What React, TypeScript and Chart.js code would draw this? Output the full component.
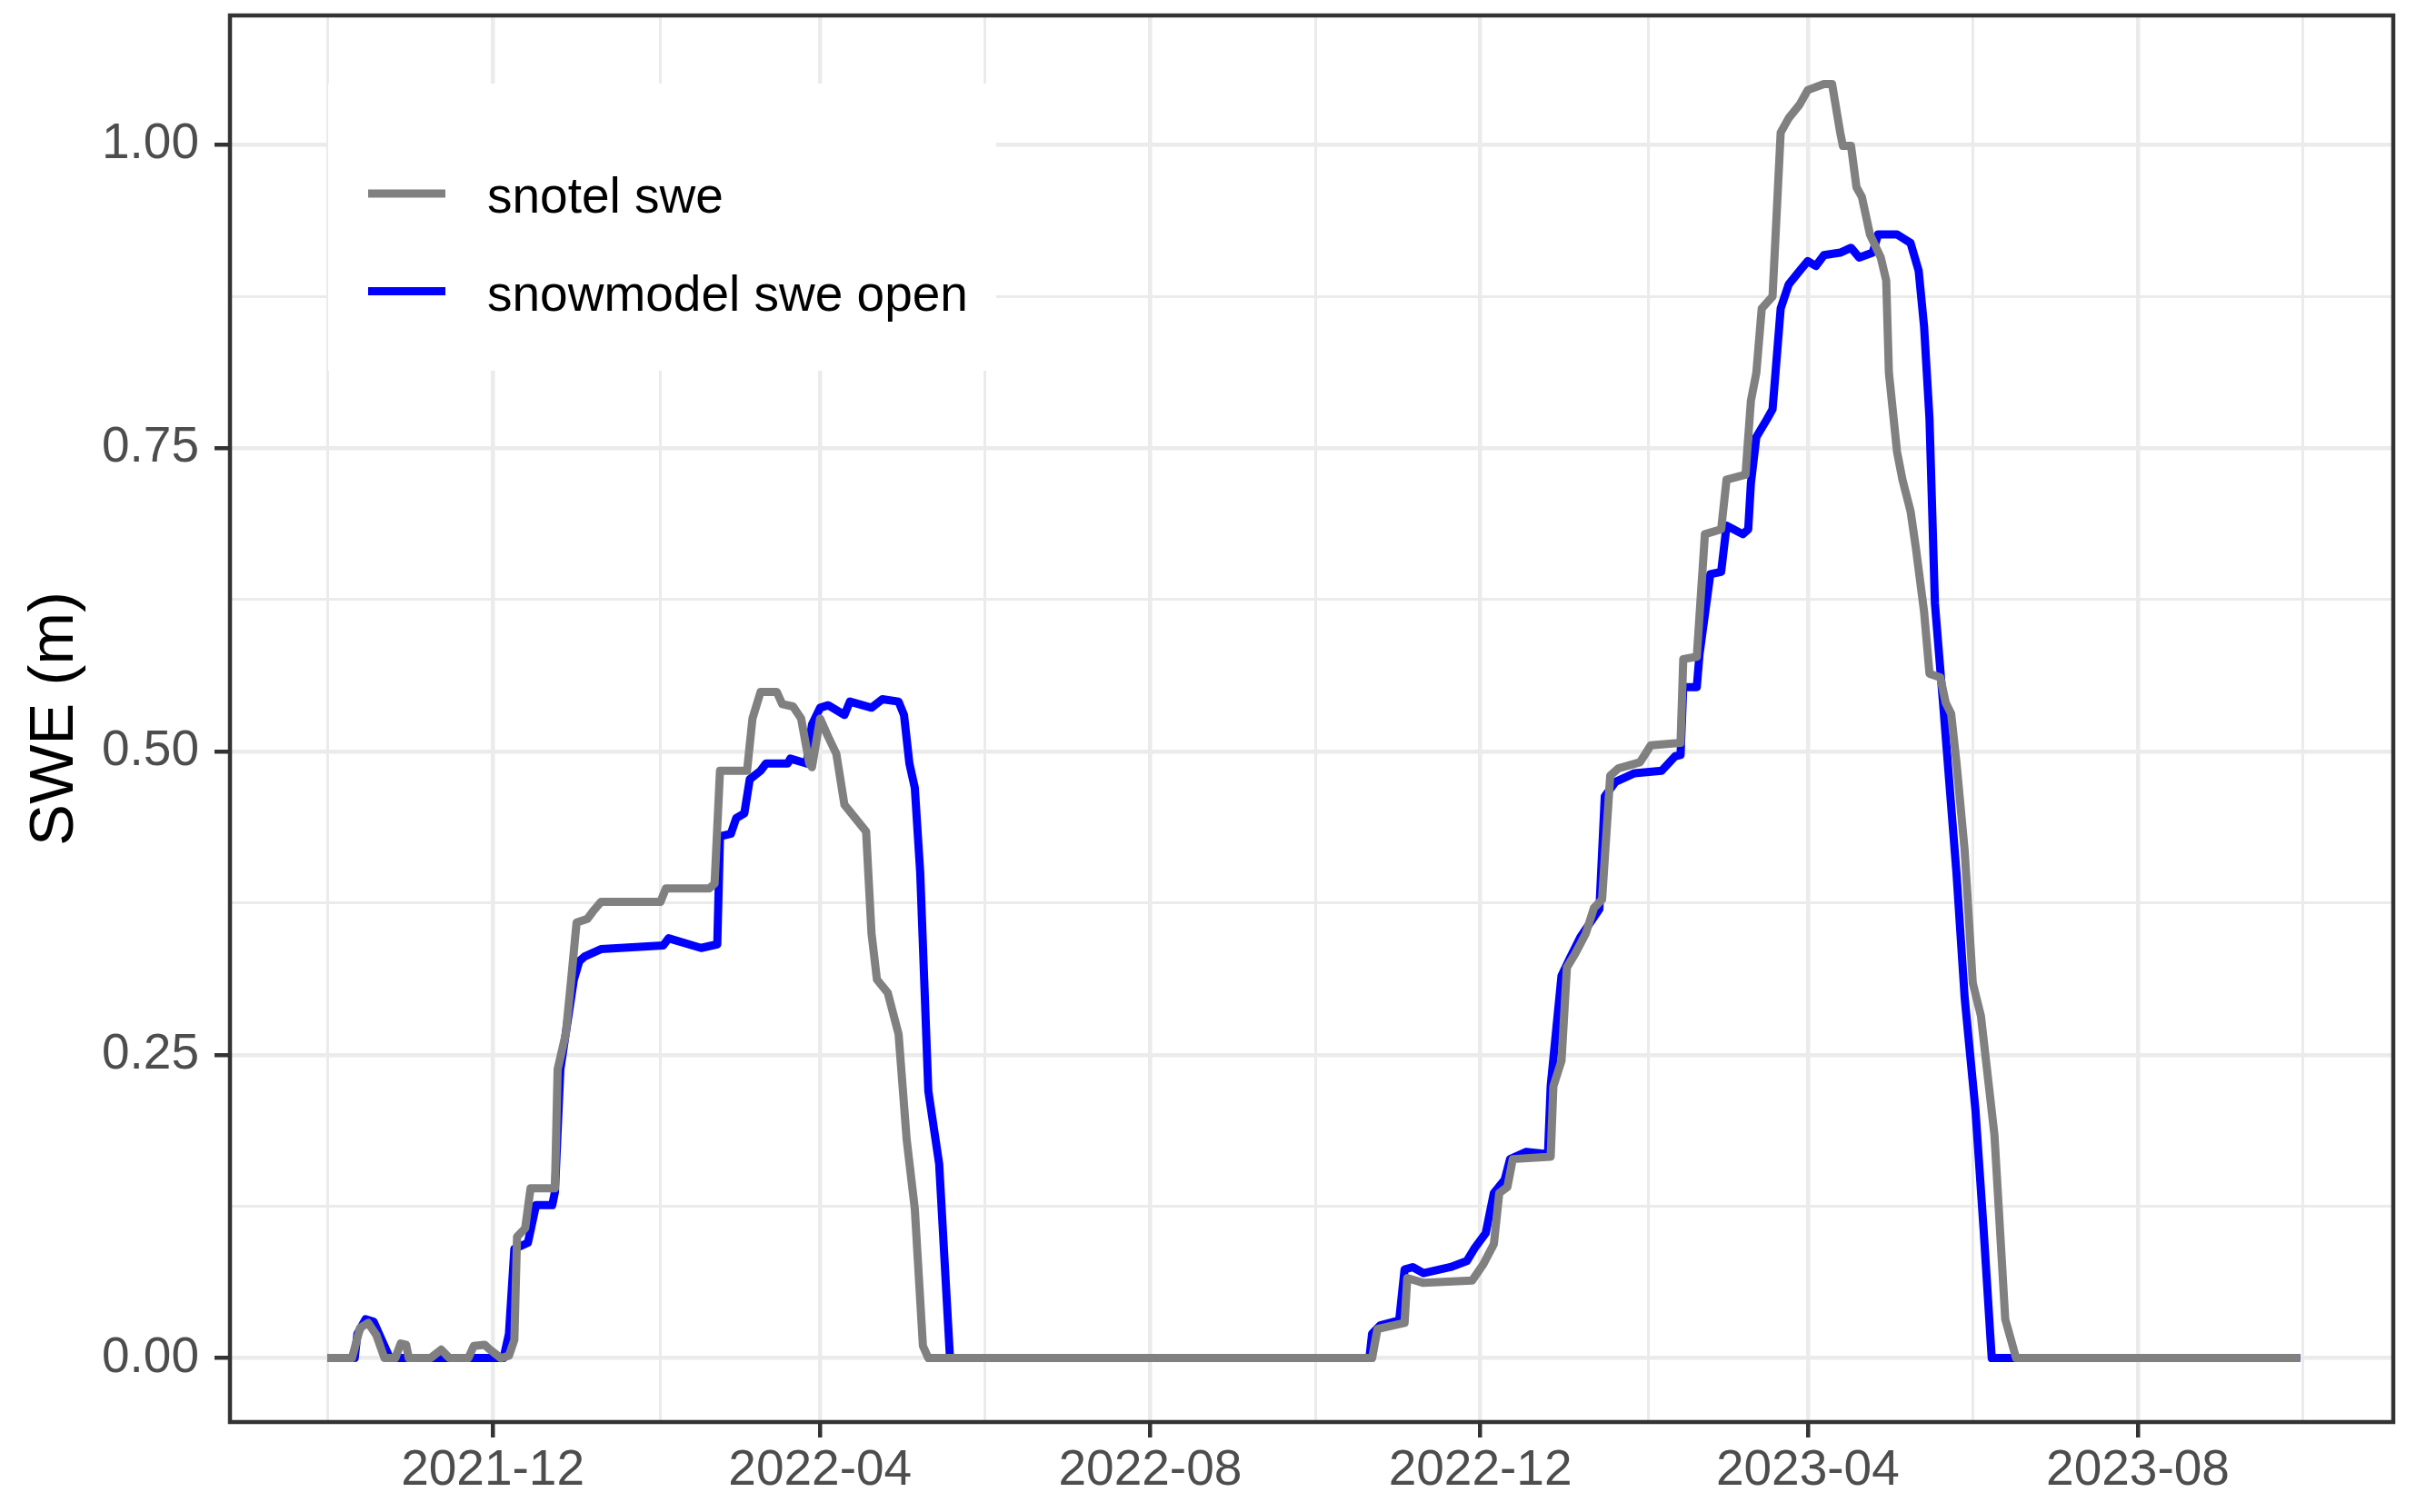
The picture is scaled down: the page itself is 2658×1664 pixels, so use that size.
import React, { useEffect, useRef } from 'react';
import { Chart, registerables } from 'chart.js';

Chart.register(...registerables);

// ---------------- data ----------------
const seriesNames = ['snotel swe', 'snowmodel swe open'];
const seriesColors = ['#808080', '#0000FF'];

const snotelDates = [
  '2021-10-01', '2021-10-10', '2021-10-13', '2021-10-16', '2021-10-19', '2021-10-22', '2021-10-26',
  '2021-10-28', '2021-10-30', '2021-10-31', '2021-11-08', '2021-11-12', '2021-11-15', '2021-11-22',
  '2021-11-24', '2021-11-28', '2021-11-30', '2021-12-04', '2021-12-07', '2021-12-09', '2021-12-10',
  '2021-12-13', '2021-12-15', '2021-12-24', '2021-12-25', '2021-12-28', '2021-12-30', '2022-01-01',
  '2022-01-05', '2022-01-07', '2022-01-10', '2022-02-01', '2022-02-03', '2022-02-19', '2022-02-21',
  '2022-02-23', '2022-03-05', '2022-03-07', '2022-03-10', '2022-03-16', '2022-03-18', '2022-03-22',
  '2022-03-25', '2022-03-28', '2022-03-29', '2022-04-01', '2022-04-04', '2022-04-07', '2022-04-10',
  '2022-04-14', '2022-04-18', '2022-04-20', '2022-04-22', '2022-04-26', '2022-04-30', '2022-05-03',
  '2022-05-06', '2022-05-09', '2022-05-11',
  '2022-10-22', '2022-10-24', '2022-11-03', '2022-11-04', '2022-11-10', '2022-11-28', '2022-12-02',
  '2022-12-06', '2022-12-08', '2022-12-11', '2022-12-13', '2022-12-27', '2022-12-28', '2022-12-31',
  '2023-01-02', '2023-01-05', '2023-01-09', '2023-01-12', '2023-01-15', '2023-01-18', '2023-01-21',
  '2023-01-29', '2023-02-02', '2023-02-13', '2023-02-14', '2023-02-19', '2023-02-22', '2023-02-28',
  '2023-03-02', '2023-03-09', '2023-03-11', '2023-03-13', '2023-03-15', '2023-03-19', '2023-03-22',
  '2023-03-25', '2023-03-29', '2023-04-01', '2023-04-07', '2023-04-10', '2023-04-13', '2023-04-14',
  '2023-04-17', '2023-04-19', '2023-04-21', '2023-04-24', '2023-04-28', '2023-04-30', '2023-05-01',
  '2023-05-04', '2023-05-06', '2023-05-09', '2023-05-11', '2023-05-14', '2023-05-16', '2023-05-20',
  '2023-05-22', '2023-05-24', '2023-05-26', '2023-05-29', '2023-06-01', '2023-06-04', '2023-06-09',
  '2023-06-13', '2023-06-17', '2023-09-30',
];
const snotelSwe = [
  0, 0, 0.025, 0.029, 0.019, 0, 0,
  0.012, 0.011, 0, 0, 0.007, 0, 0,
  0.010, 0.011, 0.007, 0, 0.002, 0.015, 0.100,
  0.107, 0.140, 0.140, 0.238, 0.267, 0.312, 0.359,
  0.362, 0.368, 0.376, 0.376, 0.387, 0.387, 0.391,
  0.484, 0.484, 0.527, 0.549, 0.549, 0.539, 0.537,
  0.527, 0.490, 0.487, 0.527, 0.512, 0.498, 0.456,
  0.445, 0.434, 0.350, 0.312, 0.301, 0.267, 0.180,
  0.123, 0.010, 0,
  0, 0.024, 0.029, 0.066, 0.062, 0.064, 0.077,
  0.094, 0.136, 0.141, 0.164, 0.166, 0.224, 0.245,
  0.322, 0.333, 0.350, 0.371, 0.378, 0.480, 0.486,
  0.491, 0.505, 0.507, 0.576, 0.578, 0.679, 0.683,
  0.724, 0.728, 0.789, 0.812, 0.865, 0.875, 1.010,
  1.022, 1.033, 1.045, 1.050, 1.050, 1.010, 0.999,
  0.999, 0.965, 0.957, 0.926, 0.907, 0.888, 0.812,
  0.747, 0.724, 0.698, 0.667, 0.615, 0.564, 0.561,
  0.540, 0.531, 0.490, 0.418, 0.309, 0.282, 0.184,
  0.032, 0, 0,
];

const modelDates = [
  '2021-10-01', '2021-10-11', '2021-10-12', '2021-10-15', '2021-10-18', '2021-10-22', '2021-10-24',
  '2021-12-05', '2021-12-07', '2021-12-09', '2021-12-14', '2021-12-17', '2021-12-23', '2021-12-24',
  '2021-12-26', '2021-12-31', '2022-01-02', '2022-01-04', '2022-01-10', '2022-02-02', '2022-02-04',
  '2022-02-16', '2022-02-22', '2022-02-23', '2022-02-27', '2022-03-01', '2022-03-04', '2022-03-06',
  '2022-03-10', '2022-03-12', '2022-03-20', '2022-03-21', '2022-03-27', '2022-03-29', '2022-04-01',
  '2022-04-04', '2022-04-10', '2022-04-12', '2022-04-20', '2022-04-24', '2022-04-30', '2022-05-02',
  '2022-05-04', '2022-05-06', '2022-05-08', '2022-05-11', '2022-05-15', '2022-05-19',
  '2022-10-21', '2022-10-22', '2022-10-25', '2022-11-01', '2022-11-03', '2022-11-06', '2022-11-10',
  '2022-11-20', '2022-11-26', '2022-11-29', '2022-12-03', '2022-12-06', '2022-12-10', '2022-12-12',
  '2022-12-18', '2022-12-26', '2022-12-27', '2022-12-31', '2023-01-03', '2023-01-07', '2023-01-14',
  '2023-01-16', '2023-01-20', '2023-01-27', '2023-02-06', '2023-02-11', '2023-02-13', '2023-02-14',
  '2023-02-19', '2023-02-20', '2023-02-24', '2023-02-28', '2023-03-02', '2023-03-08', '2023-03-10',
  '2023-03-11', '2023-03-13', '2023-03-17', '2023-03-19', '2023-03-22', '2023-03-25', '2023-03-29',
  '2023-04-01', '2023-04-04', '2023-04-07', '2023-04-13', '2023-04-17', '2023-04-20', '2023-04-25',
  '2023-04-27', '2023-05-04', '2023-05-09', '2023-05-12', '2023-05-14', '2023-05-16', '2023-05-18',
  '2023-05-21', '2023-05-26', '2023-05-29', '2023-06-02', '2023-06-05', '2023-06-08', '2023-09-30',
];
const modelSwe = [
  0, 0, 0.020, 0.032, 0.030, 0.010, 0,
  0, 0.020, 0.090, 0.095, 0.126, 0.126, 0.137,
  0.238, 0.312, 0.327, 0.331, 0.337, 0.340, 0.346,
  0.338, 0.341, 0.430, 0.432, 0.445, 0.449, 0.477,
  0.484, 0.490, 0.490, 0.494, 0.490, 0.522, 0.536,
  0.538, 0.530, 0.541, 0.536, 0.543, 0.541, 0.530,
  0.490, 0.470, 0.400, 0.220, 0.160, 0,
  0, 0.020, 0.027, 0.031, 0.073, 0.075, 0.070,
  0.075, 0.080, 0.091, 0.103, 0.136, 0.147, 0.164,
  0.170, 0.168, 0.224, 0.315, 0.329, 0.347, 0.370,
  0.463, 0.475, 0.482, 0.484, 0.496, 0.497, 0.553,
  0.553, 0.580, 0.646, 0.648, 0.686, 0.679, 0.683,
  0.721, 0.759, 0.774, 0.782, 0.865, 0.885, 0.896,
  0.904, 0.900, 0.909, 0.911, 0.915, 0.907, 0.911,
  0.926, 0.926, 0.919, 0.896, 0.850, 0.774, 0.622,
  0.540, 0.399, 0.297, 0.204, 0.106, 0, 0,
];

const xMajorTicks = ['2021-12-01', '2022-04-01', '2022-08-01', '2022-12-01', '2023-04-01', '2023-08-01'];
const xMinorTicks = ['2021-10-01', '2022-02-01', '2022-06-01', '2022-10-01', '2023-02-01', '2023-06-01', '2023-10-01'];
const yMajorTicks = [0, 0.25, 0.5, 0.75, 1.0];
const yMinorTicks = [0.125, 0.375, 0.625, 0.875];
const yTitle = 'SWE (m)';

// ---------------- helpers ----------------
const DAY_MS = 86400000;
const toDay = (s: string) => {
  const [y, m, d] = s.split('-').map(Number);
  return Date.UTC(y, m - 1, d) / DAY_MS;
};

const FONT = '"Liberation Sans", Arial, Helvetica, sans-serif';

export default function App() {
  const ref = useRef<HTMLCanvasElement | null>(null);

  useEffect(() => {
    document.body.style.margin = '0';
    const canvas = ref.current;
    if (!canvas) return;

    const W = 2658;
    const H = 1664;
    const panelLeft = 253;
    const panelRight = 2633;
    const panelTop = 17;
    const panelBottom = 1565;

    const anchor = toDay('2021-12-01');
    const xMin = anchor - 97.1;
    const xMax = anchor + 702.4;
    const yMin = -0.0527;
    const yMax = 1.1065;

    const xMajorVals = xMajorTicks.map(toDay);
    const xMinorVals = xMinorTicks.map(toDay);
    const xLabelMap = new Map<number, string>();
    xMajorTicks.forEach((s, i) => xLabelMap.set(xMajorVals[i], s.slice(0, 7)));
    const xAll = [...xMajorVals, ...xMinorVals].filter((v) => v >= xMin && v <= xMax).sort((a, b) => a - b);
    const isXMajor = (v: number) => xLabelMap.has(v);

    const yAll = [...yMajorTicks, ...yMinorTicks].filter((v) => v >= yMin && v <= yMax).sort((a, b) => a - b);
    const isYMajor = (v: number) => yMajorTicks.some((t) => Math.abs(t - v) < 1e-9);

    const snotelData = snotelDates.map((d, i) => ({ x: toDay(d), y: snotelSwe[i] }));
    const modelData = modelDates.map((d, i) => ({ x: toDay(d), y: modelSwe[i] }));

    const lineW = 9;
    const gridMajorW = 4.5;
    const gridMinorW = 3;
    const gridColor = '#EBEBEB';
    const inkColor = '#333333';

    const legendPlugin = {
      id: 'ggLegend',
      beforeDatasetsDraw(chart: any) {
        const ctx = chart.ctx as CanvasRenderingContext2D;
        ctx.save();
        ctx.fillStyle = '#FFFFFF';
        ctx.fillRect(361, 92, 735, 316);
        seriesNames.forEach((name, i) => {
          const yMid = 213 + i * 107.5;
          ctx.strokeStyle = seriesColors[i];
          ctx.lineWidth = lineW;
          ctx.lineCap = 'butt';
          ctx.beginPath();
          ctx.moveTo(405, yMid);
          ctx.lineTo(490, yMid);
          ctx.stroke();
          ctx.fillStyle = '#000000';
          ctx.font = `55px ${FONT}`;
          ctx.textAlign = 'left';
          ctx.textBaseline = 'alphabetic';
          ctx.fillText(name, 536, yMid + 21);
        });
        ctx.restore();
      },
    };

    const borderPlugin = {
      id: 'ggBorder',
      afterDraw(chart: any) {
        const { left, right, top, bottom } = chart.chartArea;
        const ctx = chart.ctx as CanvasRenderingContext2D;
        ctx.save();
        ctx.strokeStyle = inkColor;
        ctx.lineWidth = 4.5;
        ctx.strokeRect(left, top, right - left, bottom - top);
        ctx.restore();
      },
    };

    const chart = new Chart(canvas, {
      type: 'line',
      data: {
        datasets: [
          {
            label: seriesNames[0],
            data: snotelData,
            borderColor: seriesColors[0],
            backgroundColor: seriesColors[0],
            borderWidth: lineW,
            pointRadius: 0,
            tension: 0,
            borderJoinStyle: 'round',
            fill: false,
            order: 0,
          },
          {
            label: seriesNames[1],
            data: modelData,
            borderColor: seriesColors[1],
            backgroundColor: seriesColors[1],
            borderWidth: lineW,
            pointRadius: 0,
            tension: 0,
            borderJoinStyle: 'round',
            fill: false,
            order: 1,
          },
        ],
      },
      options: {
        responsive: false,
        animation: false,
        devicePixelRatio: 1,
        events: [],
        layout: { padding: { top: panelTop, right: W - panelRight, left: 0, bottom: 0 } },
        plugins: {
          legend: { display: false },
          tooltip: { enabled: false },
          title: { display: false },
        },
        scales: {
          x: {
            type: 'linear',
            min: xMin,
            max: xMax,
            bounds: 'data',
            border: { display: false },
            afterBuildTicks: (scale: any) => {
              scale.ticks = xAll.map((v) => ({ value: v }));
            },
            afterFit: (scale: any) => {
              scale.height = H - panelBottom;
              scale.paddingLeft = 0;
              scale.paddingRight = 0;
              scale.paddingTop = 0;
              scale.paddingBottom = 0;
            },
            grid: {
              drawOnChartArea: true,
              drawTicks: true,
              tickLength: 17,
              color: gridColor,
              lineWidth: (c: any) => (c.tick && isXMajor(c.tick.value) ? gridMajorW : gridMinorW),
              tickColor: (c: any) => (c.tick && isXMajor(c.tick.value) ? inkColor : 'rgba(0,0,0,0)'),
              tickWidth: 4.5,
            },
            ticks: {
              autoSkip: false,
              maxRotation: 0,
              minRotation: 0,
              padding: 4,
              color: '#4D4D4D',
              font: { family: FONT, size: 55 },
              callback: (v: any) => xLabelMap.get(Number(v)) ?? '',
            },
          },
          y: {
            type: 'linear',
            min: yMin,
            max: yMax,
            bounds: 'data',
            border: { display: false },
            afterBuildTicks: (scale: any) => {
              scale.ticks = yAll.map((v) => ({ value: v }));
            },
            afterFit: (scale: any) => {
              scale.width = panelLeft;
              scale.paddingLeft = 0;
              scale.paddingRight = 0;
              scale.paddingTop = 0;
              scale.paddingBottom = 0;
            },
            grid: {
              drawOnChartArea: true,
              drawTicks: true,
              tickLength: 17,
              color: gridColor,
              lineWidth: (c: any) => (c.tick && isYMajor(c.tick.value) ? gridMajorW : gridMinorW),
              tickColor: (c: any) => (c.tick && isYMajor(c.tick.value) ? inkColor : 'rgba(0,0,0,0)'),
              tickWidth: 4.5,
            },
            ticks: {
              autoSkip: false,
              padding: 17,
              color: '#4D4D4D',
              font: { family: FONT, size: 55 },
              callback: (v: any) => (isYMajor(Number(v)) ? Number(v).toFixed(2) : ''),
            },
            title: {
              display: true,
              text: yTitle,
              color: '#000000',
              font: { family: FONT, size: 69 },
              padding: { top: 20, bottom: 0 },
            },
          },
        },
      },
      plugins: [legendPlugin, borderPlugin],
    } as any);

    return () => chart.destroy();
  }, []);

  return (
    <div style={{ width: 2658, height: 1664, position: 'relative' }}>
      <canvas ref={ref} width={2658} height={1664} style={{ display: 'block', width: 2658, height: 1664 }} />
    </div>
  );
}
